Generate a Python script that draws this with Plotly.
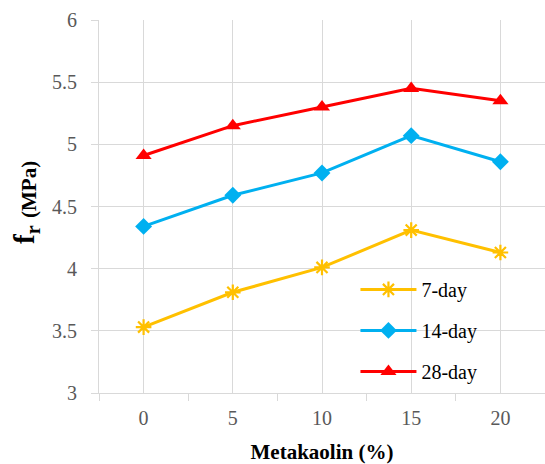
import plotly.graph_objects as go

# Metakaolin replacement levels (%) and flexural strength f_r (MPa)
metakaolin = [0, 5, 10, 15, 20]
fr_7day = [3.53, 3.81, 4.01, 4.31, 4.13]
fr_14day = [4.34, 4.59, 4.77, 5.07, 4.86]
fr_28day = [4.91, 5.15, 5.30, 5.45, 5.35]

series_names = ["7-day", "14-day", "28-day"]
x_tick_labels = ["0", "5", "10", "15", "20"]
y_tick_labels = ["3", "3.5", "4", "4.5", "5", "5.5", "6"]

SERIF = "Liberation Serif"
GRID = "#D9D9D9"
TICK_TEXT = "#595959"

styles = [
    dict(color="#FFC000", symbol="asterisk-open", size=13, mline=2.2),
    dict(color="#00B0F0", symbol="diamond", size=13, mline=0),
    dict(color="#FF0000", symbol="triangle-up", size=14, mline=0),
]

fig = go.Figure()
for name, values, st in zip(series_names, [fr_7day, fr_14day, fr_28day], styles):
    fig.add_trace(go.Scatter(
        x=metakaolin, y=values, name=name, mode="lines+markers",
        legendgroup=name,
        line=dict(color=st["color"], width=3),
        marker=dict(symbol=st["symbol"], size=st["size"], color=st["color"],
                    line=dict(color=st["color"], width=st["mline"])),
    ))

fig.update_layout(
    template="none",
    width=545, height=464,
    margin=dict(l=99, r=0, t=20, b=71),
    paper_bgcolor="white", plot_bgcolor="white",
    font=dict(family=SERIF, color="#000000"),
    showlegend=True,
    legend=dict(
        x=0.575, y=0.33, xanchor="left", yanchor="top",
        bgcolor="rgba(0,0,0,0)", borderwidth=0,
        font=dict(family=SERIF, size=20, color="#000000"),
        itemwidth=56, tracegroupgap=12,
    ),
    xaxis=dict(
        range=[-2.5, 22.5],
        tickvals=metakaolin, ticktext=x_tick_labels,
        ticks="", showgrid=True, gridcolor=GRID, gridwidth=1,
        showline=True, linecolor=GRID, linewidth=1.3,
        tickfont=dict(family=SERIF, size=20, color=TICK_TEXT),
        ticklabelstandoff=7,
        minor=dict(tickvals=[-2.5, 2.5, 7.5, 12.5, 17.5, 22.5], ticks="outside",
                   ticklen=7, tickcolor=GRID, tickwidth=1.3, showgrid=False),
        title=dict(text="<b>Metakaolin (%)</b>",
                   font=dict(family=SERIF, size=21, color="#000000"), standoff=18),
        zeroline=False,
    ),
    yaxis=dict(
        range=[3, 6],
        tickvals=[3, 3.5, 4, 4.5, 5, 5.5, 6], ticktext=y_tick_labels,
        ticks="outside", ticklen=7, tickcolor=GRID,
        ticklabelstandoff=10,
        showgrid=True, gridcolor=GRID, gridwidth=1.3,
        showline=True, linecolor=GRID, linewidth=1,
        tickfont=dict(family=SERIF, size=20, color=TICK_TEXT),
        zeroline=False,
    ),
)

# Rotated y-axis title: large "f" with subscript "r", then a smaller unit label
fig.add_annotation(
    xref="paper", yref="paper", x=0, y=0.4236, xshift=-73,
    xanchor="center", yanchor="middle", textangle=-90, showarrow=False,
    text="<b>f<sub>r</sub></b>",
    font=dict(family=SERIF, size=29, color="#000000"),
)
fig.add_annotation(
    xref="paper", yref="paper", x=0, y=0.5442, xshift=-70,
    xanchor="center", yanchor="middle", textangle=-90, showarrow=False,
    text="<b>(MPa)</b>",
    font=dict(family=SERIF, size=21, color="#000000"),
)

fig.write_html("out.html")
